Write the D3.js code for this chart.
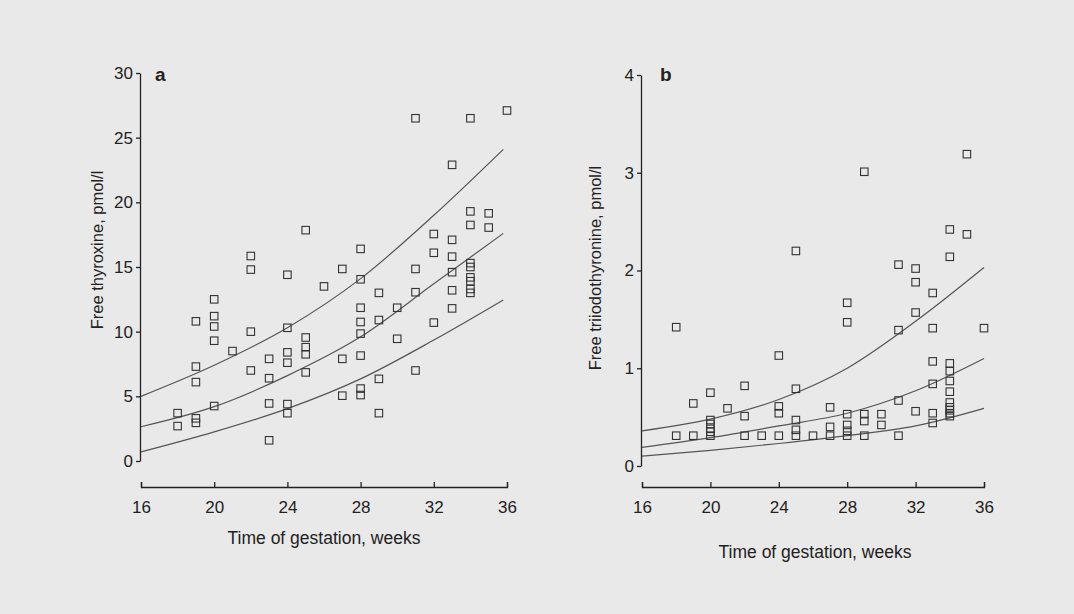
<!DOCTYPE html>
<html>
<head>
<meta charset="utf-8">
<script src="https://cdn.jsdelivr.net/npm/d3@7"></script>
<style>
  html, body { margin: 0; padding: 0; background: #e9e9e9; }
  svg { display: block; }
  text { font-family: "Liberation Sans", Arial, sans-serif; fill: #222; }
</style>
</head>
<body>
<svg id="chart" width="1074" height="614"></svg>
<script>
// ---------- DATA ----------
const xTicks = [16, 20, 24, 28, 32, 36];
const yTicksA = [0, 5, 10, 15, 20, 25, 30];
const yTicksB = [0, 1, 2, 3, 4];

// Panel a: free thyroxine (week, pmol/l)
const pointsA = [
  [18, 3.7], [18, 2.7],
  [19, 10.8], [19, 7.3], [19, 6.1], [19, 3.3], [19, 2.95],
  [20, 12.5], [20, 11.2], [20, 10.4], [20, 9.3], [20, 4.25],
  [21, 8.5],
  [22, 15.85], [22, 14.8], [22, 10.0], [22, 7.0],
  [23, 7.9], [23, 6.4], [23, 4.45], [23, 1.6],
  [24, 14.4], [24, 10.3], [24, 8.4], [24, 7.6], [24, 4.4], [24, 3.7],
  [25, 17.85], [25, 9.55], [25, 8.8], [25, 8.25], [25, 6.85],
  [26, 13.5],
  [27, 14.85], [27, 7.9], [27, 5.05],
  [28, 16.4], [28, 14.05], [28, 11.85], [28, 10.75], [28, 9.85], [28, 8.15], [28, 5.6], [28, 5.1],
  [29, 13.0], [29, 10.9], [29, 6.35], [29, 3.7],
  [30, 11.85], [30, 9.45],
  [31, 26.5], [31, 14.85], [31, 13.05], [31, 7.0],
  [32, 17.55], [32, 16.1], [32, 10.7],
  [33, 22.9], [33, 17.1], [33, 15.8], [33, 14.6], [33, 13.2], [33, 11.8],
  [34, 26.5], [34, 19.3], [34, 18.25], [34, 15.3], [34, 15.0], [34, 14.2], [34, 13.9], [34, 13.3], [34, 13.0],
  [35, 19.15], [35, 18.05],
  [36, 27.1]
];
const curveWeeksA = [16, 20, 24, 28, 32, 35.8];
const upperA  = [5.0, 7.4, 10.3, 14.1, 19.0, 24.1];
const middleA = [2.65, 4.2, 6.6, 9.6, 13.7, 17.6];
const lowerA  = [0.7, 2.25, 4.05, 6.35, 9.35, 12.45];

// Panel b: free triiodothyronine (week, pmol/l)
const pointsB = [
  [18, 1.42], [18, 0.31],
  [19, 0.64], [19, 0.31],
  [20, 0.75], [20, 0.47], [20, 0.43], [20, 0.38], [20, 0.35], [20, 0.31],
  [21, 0.59],
  [22, 0.82], [22, 0.51], [22, 0.31],
  [23, 0.31],
  [24, 1.13], [24, 0.61], [24, 0.54], [24, 0.31],
  [25, 2.2], [25, 0.79], [25, 0.47], [25, 0.37], [25, 0.31],
  [26, 0.31],
  [27, 0.6], [27, 0.4], [27, 0.31],
  [28, 1.67], [28, 1.47], [28, 0.53], [28, 0.42], [28, 0.36], [28, 0.31],
  [29, 3.01], [29, 0.53], [29, 0.46], [29, 0.31],
  [30, 0.53], [30, 0.42],
  [31, 2.06], [31, 1.39], [31, 0.67], [31, 0.31],
  [32, 2.02], [32, 1.88], [32, 1.57], [32, 0.56],
  [33, 1.77], [33, 1.41], [33, 1.07], [33, 0.84], [33, 0.54], [33, 0.44],
  [34, 2.42], [34, 2.14], [34, 1.05], [34, 0.97], [34, 0.87], [34, 0.76], [34, 0.65], [34, 0.6], [34, 0.57], [34, 0.54], [34, 0.51],
  [35, 3.19], [35, 2.37],
  [36, 1.41]
];
const curveWeeksB = [16, 20, 24, 28, 32, 36];
const upperB  = [0.36, 0.48, 0.68, 1.0, 1.48, 2.03];
const middleB = [0.19, 0.29, 0.41, 0.54, 0.77, 1.1];
const lowerB  = [0.10, 0.16, 0.23, 0.31, 0.41, 0.59];

// ---------- DRAW ----------
const svg = d3.select("#chart");

function panel(cfg) {
  const g = svg.append("g");
  const x = d3.scaleLinear().domain([16, 36]).range(cfg.xRange);
  const y = d3.scaleLinear().domain(cfg.yDomain).range(cfg.yRange);

  // y axis
  const yAx = g.append("g")
    .attr("transform", `translate(${cfg.xRange[0] - 1},0)`)
    .call(d3.axisLeft(y).tickValues(cfg.yTicks).tickFormat(d3.format("d"))
      .tickSizeInner(4).tickSizeOuter(0).tickPadding(3));
  // x axis (separate, ticks upward)
  const xAx = g.append("g")
    .attr("transform", `translate(0,${cfg.xAxisY})`)
    .call(d3.axisBottom(x).tickValues(xTicks).tickFormat(d3.format("d"))
      .tickSizeInner(-5).tickSizeOuter(-5).tickPadding(14));

  [yAx, xAx].forEach(a => {
    a.selectAll("path, line").attr("stroke", "#222").attr("stroke-width", 1.3);
    a.selectAll("text").attr("font-size", 17).attr("fill", "#222")
      .attr("font-family", '"Liberation Sans", Arial, sans-serif');
  });

  // curves
  const line = d3.line().x(d => x(d[0])).y(d => y(d[1])).curve(d3.curveMonotoneX);
  cfg.curves.forEach(vals => {
    g.append("path")
      .datum(cfg.curveWeeks.map((w, i) => [w, vals[i]]))
      .attr("d", line)
      .attr("fill", "none")
      .attr("stroke", "#555")
      .attr("stroke-width", 1.2);
  });

  // points
  const s = 7.5;
  g.append("g").selectAll("rect").data(cfg.points).join("rect")
    .attr("x", d => x(d[0]) - s / 2)
    .attr("y", d => y(d[1]) - s / 2)
    .attr("width", s).attr("height", s)
    .attr("fill", "none")
    .attr("stroke", "#333")
    .attr("stroke-width", 1.1);

  // panel letter
  g.append("text")
    .attr("x", cfg.letterX).attr("y", 81)
    .attr("font-family", '"Liberation Serif", "DejaVu Serif", serif')
    .attr("font-weight", "bold").attr("font-size", 19)
    .text(cfg.letter);

  // y label
  g.append("text")
    .attr("transform", `translate(${cfg.yLabelX},${cfg.yLabelY}) rotate(-90)`)
    .attr("text-anchor", "middle")
    .attr("font-size", 16.5)
    .text(cfg.yLabel);

  // x label
  g.append("text")
    .attr("x", cfg.xLabelX).attr("y", cfg.xLabelY)
    .attr("text-anchor", "middle")
    .attr("font-size", 17.5)
    .text("Time of gestation, weeks");
}

panel({
  xRange: [141, 507], yDomain: [0, 30], yRange: [461, 73], yTicks: yTicksA,
  xAxisY: 487, points: pointsA, curveWeeks: curveWeeksA, curves: [upperA, middleA, lowerA],
  letter: "a", letterX: 155, yLabel: "Free thyroxine, pmol/l", yLabelX: 103, yLabelY: 250,
  xLabelX: 324, xLabelY: 544
});

panel({
  xRange: [642, 984], yDomain: [0, 4], yRange: [466, 75], yTicks: yTicksB,
  xAxisY: 487, points: pointsB, curveWeeks: curveWeeksB, curves: [upperB, middleB, lowerB],
  letter: "b", letterX: 660, yLabel: "Free triiodothyronine, pmol/l", yLabelX: 601, yLabelY: 268,
  xLabelX: 815, xLabelY: 558
});
</script>
</body>
</html>
